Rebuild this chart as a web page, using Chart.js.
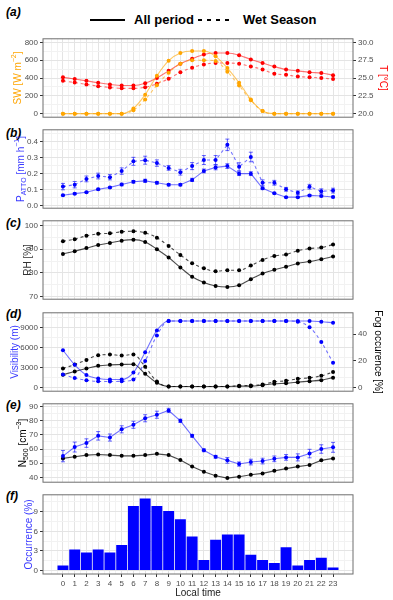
<!DOCTYPE html>
<html><head><meta charset="utf-8">
<script src="https://cdn.jsdelivr.net/npm/chart.js@4/dist/chart.umd.min.js"></script>
<style>
body{margin:0;width:393px;height:600px;background:#fff;position:relative;overflow:hidden;font-family:"Liberation Sans",Arial,sans-serif;}
canvas{position:absolute;left:0;}
.lab{position:absolute;left:6px;font-weight:bold;font-style:italic;font-size:12px;color:#000;line-height:12px;}
.lg{position:absolute;font-weight:bold;font-size:13px;color:#000;line-height:14px;}
</style></head><body>
<div class="lab" style="top:6px">(a)</div>
<div class="lab" style="top:127px">(b)</div>
<div class="lab" style="top:217px">(c)</div>
<div class="lab" style="top:308px">(d)</div>
<div class="lab" style="top:399px">(e)</div>
<div class="lab" style="top:490px">(f)</div>
<div style="position:absolute;left:90px;top:19px;width:35px;height:2px;background:#000"></div>
<div class="lg" style="left:134px;top:13px">All period</div>
<div style="position:absolute;left:198px;top:19px;width:35px;height:2px;background:repeating-linear-gradient(to right,#000 0 4px,transparent 4px 9px)"></div>
<div class="lg" style="left:243px;top:13px">Wet Season</div>
<canvas id="ca" width="393" height="92" style="top:32px"></canvas>
<canvas id="cb" width="393" height="92" style="top:123px"></canvas>
<canvas id="cc" width="393" height="92" style="top:214px"></canvas>
<canvas id="cd" width="393" height="92" style="top:306px"></canvas>
<canvas id="ce" width="393" height="92" style="top:397px"></canvas>
<canvas id="cf" width="393" height="112" style="top:488px"></canvas>
<script>
// ---------- data ----------
const hours = [0,1,2,3,4,5,6,7,8,9,10,11,12,13,14,15,16,17,18,19,20,21,22,23];
const xTickLabels = hours.map(String);
// (a)
const swAll = [0,0,0,0,0,0,58,213,425,595,680,703,703,643,512,347,158,29,0,0,0,0,0,0];
const swWet = [0,0,0,0,0,0,38,160,318,460,560,600,600,592,470,315,150,29,0,0,0,0,0,0];
const tAll = [25.1,24.86,24.6,24.33,24.1,23.95,23.95,24.27,25.0,26.0,27.0,27.7,28.3,28.5,28.5,28.2,27.6,27.1,26.6,26.2,26.0,25.8,25.7,25.4];
const tWet = [24.6,24.36,24.1,23.86,23.68,23.55,23.55,23.7,24.2,24.9,25.8,26.45,26.9,27.1,27.1,27.0,26.6,26.2,25.6,25.45,25.2,25.1,25.0,24.85];
// (b)
const pAll = [0.063,0.073,0.082,0.1,0.112,0.13,0.147,0.153,0.141,0.129,0.129,0.159,0.215,0.237,0.245,0.198,0.198,0.106,0.076,0.051,0.051,0.062,0.058,0.052];
const pAllErr = [0.005,0.005,0.005,0.006,0.006,0.008,0.008,0.01,0.008,0.007,0.007,0.01,0.012,0.015,0.015,0.012,0.012,0.008,0.005,0.004,0.004,0.005,0.005,0.005];
const pWet = [0.117,0.129,0.165,0.183,0.176,0.214,0.275,0.282,0.264,0.234,0.207,0.245,0.283,0.283,0.378,0.241,0.302,0.141,0.141,0.1,0.078,0.116,0.088,0.092];
const pWetErr = [0.02,0.02,0.018,0.018,0.017,0.02,0.025,0.025,0.02,0.015,0.018,0.022,0.028,0.028,0.036,0.025,0.03,0.018,0.015,0.012,0.012,0.015,0.015,0.015];
// (c)
const rhAll = [88.0,89.2,90.5,91.85,92.7,93.65,94.1,93.1,90.05,86.5,82.3,78.3,75.9,74.4,74.0,74.7,77.3,79.7,81.3,82.6,84.0,84.8,85.8,86.9];
const rhWet = [93.4,94.3,95.7,96.55,96.8,97.4,97.7,97.0,94.9,91.4,87.6,84.1,81.9,80.65,81.1,81.1,83.1,85.5,87.15,87.8,89.4,90.3,90.75,92.0];
// (d)
const visAll = [5600,3400,1870,1340,1190,1190,2240,5300,8580,10000,10000,10000,10000,10000,10000,10000,10000,10000,10000,10000,10000,10000,9890,9740];
const visWet = [1950,1420,1090,920,900,920,1190,3980,7830,10000,10000,10000,10000,10000,10000,10000,10000,10000,10000,10000,9880,9070,6850,3710];
const fogAll = [9.6,12,14.25,16.25,17,17.25,17.5,10.3,3.5,0.75,0.75,0.75,0.75,0.75,0.75,1,1,1.75,2.75,3.25,4,4.75,5.5,7.4];
const fogWet = [14.25,17.25,20.75,24.25,24.75,24,24.8,15.5,4.5,0.75,0.75,0.75,0.75,0.75,0.75,1.25,1.5,2.25,4.25,5,6.5,7.25,8.75,11.6];
// (e)
const nBlue = [55.0,61.4,64.2,69.3,68.1,73.9,77.1,81.7,84.2,87.2,79.9,69.3,59.1,54.5,52.0,49.4,50.8,51.5,53.1,54.1,54.1,56.8,60.0,61.2];
const nBlueErr = [4,3.5,3,3,2.5,2.5,2.5,2.5,2.5,1.5,1.2,1,1,1,2,1.5,2,2,2,2,2.5,3,3,3.5];
const nBlack = [53.4,54.5,55.7,56.1,55.7,55.2,55.2,55.7,56.6,55.7,52.2,47.6,43.9,41.2,39.5,40.5,41.8,42.8,44.6,46.2,47.6,48.7,52.0,53.4];
// (f)
const occ = [0.75,3.2,2.75,3.2,2.75,3.9,9.9,11.05,9.9,9.1,7.85,5.2,1.6,4.7,5.5,5.5,2.4,1.6,1.15,3.55,0.75,1.6,1.95,0.45];

// ---------- helpers ----------
const FONT = '"Liberation Sans", Arial, sans-serif';
const GRID_MAJOR = '#e4e4e4', GRID_MINOR = '#f2f2f2', TICK_TXT = '#4d4d4d', TICK_MARK = '#333333';
const NONE = 'rgba(0,0,0,0)';
Chart.defaults.font.family = FONT;
function seq(a, b, s){ const r=[]; for(let v=a; v<=b+1e-9; v+=s) r.push(+v.toFixed(6)); return r; }
const pts = arr => arr.map((v,i)=>({x:hours[i], y:v}));
const isMajX = v => v !== undefined && Number.isInteger(v) && v>=0 && v<=23;
const tv = c => (c && c.tick) ? c.tick.value : undefined;

function xAxis(show){
  return {
    type:'linear', min:-1.7, max:24.7, offset:false,
    afterBuildTicks: s => { s.ticks = seq(-1,24,0.5).map(v=>({value:v})); },
    afterFit: s => { s.height = show ? 26 : 0; },
    grid:{ offset:false, color: c => isMajX(tv(c)) ? GRID_MAJOR : GRID_MINOR, lineWidth:1,
           drawTicks: show, tickLength:3, tickColor: c => isMajX(tv(c)) ? TICK_MARK : NONE },
    border:{display:false},
    ticks:{ display: show, autoSkip:false, maxRotation:0, padding:2, color:TICK_TXT, font:{size:8},
            callback: v => isMajX(v) ? xTickLabels[v] : '' },
    title:{ display: show, text:'Local time', color:'#1a1a1a', font:{size:10}, padding:{top:0,bottom:1} }
  };
}
function yAxis(pos, min, max, majors, minors, fmt, width, grid){
  const all = majors.concat(minors).sort((a,b)=>a-b);
  const maj = v => v !== undefined && majors.some(m => Math.abs(m-v) < 1e-9);
  return {
    type:'linear', position:pos, min, max,
    afterBuildTicks: s => { s.ticks = all.map(v=>({value:v})); },
    afterFit: s => { s.width = width; },
    grid:{ drawOnChartArea: grid, color: c => maj(tv(c)) ? GRID_MAJOR : GRID_MINOR, lineWidth:1,
           drawTicks:true, tickLength:3, tickColor: c => maj(tv(c)) ? TICK_MARK : NONE },
    border:{display:false},
    ticks:{ autoSkip:false, padding:2, color:TICK_TXT, font:{size:8}, callback: v => maj(v) ? fmt(v) : '' }
  };
}
function line(data, color, ptColor, dashed, yID, extra){
  return Object.assign({
    type:'line', data:pts(data), yAxisID:yID||'y',
    borderColor:color, borderWidth:1.1, borderDash: dashed ? [3,3] : [],
    pointRadius:2, pointBorderWidth:0, pointBackgroundColor:ptColor, pointHoverRadius:2,
    fill:false
  }, extra||{});
}

// rich rotated titles + panel border + error bars
const deco = {
  id:'deco',
  afterDatasetsDraw(chart){
    const ctx = chart.ctx, a = chart.chartArea;
    ctx.save();
    ctx.beginPath(); ctx.rect(a.left, a.top, a.right-a.left, a.bottom-a.top); ctx.clip();
    chart.data.datasets.forEach((ds, di) => {
      if(!ds.errs) return;
      const meta = chart.getDatasetMeta(di), ys = chart.scales[meta.yAxisID];
      ctx.strokeStyle = ds.errColor; ctx.lineWidth = 1; ctx.setLineDash([]);
      meta.data.forEach((p, i) => {
        const v = ds.data[i].y, e = ds.errs[i];
        const y1 = ys.getPixelForValue(v+e), y2 = ys.getPixelForValue(v-e);
        ctx.beginPath();
        ctx.moveTo(p.x, y1); ctx.lineTo(p.x, y2);
        ctx.moveTo(p.x-2, y1); ctx.lineTo(p.x+2, y1);
        ctx.moveTo(p.x-2, y2); ctx.lineTo(p.x+2, y2);
        ctx.stroke();
      });
    });
    ctx.restore();
  },
  afterDraw(chart, args, opts){
    const ctx = chart.ctx, a = chart.chartArea;
    ctx.save();
    ctx.strokeStyle = '#6e6e6e'; ctx.lineWidth = 1; ctx.setLineDash([]);
    ctx.strokeRect(a.left, a.top, a.right-a.left, a.bottom-a.top);
    (opts.titles||[]).forEach(t => {
      const cy = (a.top + a.bottom)/2;
      ctx.save();
      ctx.translate(t.x, cy);
      ctx.rotate(t.rot);
      ctx.fillStyle = t.color; ctx.textBaseline = 'middle'; ctx.textAlign = 'left';
      const big = '10px ' + FONT, small = '7px ' + FONT;
      let w = 0;
      t.parts.forEach(p => { ctx.font = (p.sub||p.sup) ? small : big; w += ctx.measureText(p.t).width; });
      let x = -w/2;
      t.parts.forEach(p => {
        ctx.font = (p.sub||p.sup) ? small : big;
        const dy = p.sub ? 3 : (p.sup ? -3.5 : 0);
        ctx.fillText(p.t, x, dy);
        x += ctx.measureText(p.t).width;
      });
      ctx.restore();
    });
    ctx.restore();
  }
};
Chart.register(deco);

function make(id, datasets, scales, titles, padBottom, padRight){
  return new Chart(document.getElementById(id), {
    data:{ datasets },
    options:{
      responsive:false, animation:false, devicePixelRatio:1, events:[],
      layout:{ padding:{ top:6, bottom:padBottom, left:0, right:padRight } },
      plugins:{ legend:{display:false}, tooltip:{enabled:false}, deco:{ titles } },
      scales
    }
  });
}
const ORANGE='#FFA500', ORANGE_L='rgba(255,165,0,0.6)', RED='#FF0000', RED_L='rgba(255,0,0,0.55)';
const BLUE='#0000FF', BLUE_L='rgba(0,0,255,0.55)', BLACK='#000000', BLACK_L='rgba(0,0,0,0.7)';
const MONO = {cubicInterpolationMode:'monotone'};

// (a)
make('ca', [
  line(swAll, ORANGE_L, ORANGE, false, 'y', MONO),
  line(swWet, ORANGE_L, ORANGE, true, 'y', MONO),
  line(tAll, RED_L, RED, false, 'y2', MONO),
  line(tWet, RED_L, RED, true, 'y2', MONO)
], {
  x: xAxis(false),
  y: yAxis('left', -40, 840, [0,200,400,600,800], [100,300,500,700], v=>String(v), 43, true),
  y2: yAxis('right', 19.5, 30.5, [20,22.5,25,27.5,30], [], v=>v.toFixed(1), 40, false)
}, [
  {x:18, rot:-Math.PI/2, color:ORANGE, parts:[{t:'SW [W m'},{t:'−2',sup:true},{t:']'}]},
  {x:383, rot:Math.PI/2, color:RED, parts:[{t:'T [°C]'}]}
], 6, 0);

// (b)
make('cb', [
  line(pAll, BLUE_L, BLUE, false, 'y', {errs:pAllErr, errColor:'rgba(0,0,255,0.6)'}),
  line(pWet, BLUE_L, BLUE, true, 'y', {errs:pWetErr, errColor:'rgba(0,0,255,0.6)'})
], {
  x: xAxis(false),
  y: yAxis('left', -0.018, 0.472, [0,0.1,0.2,0.3,0.4], [0.05,0.15,0.25,0.35,0.45], v=>v.toFixed(1), 43, true)
}, [
  {x:21, rot:-Math.PI/2, color:'#3a3aff', parts:[{t:'P'},{t:'ATTO',sub:true},{t:' [mm h'},{t:'−1',sup:true},{t:']'}]}
], 6, 40);

// (c)
make('cc', [
  line(rhAll, BLACK_L, BLACK, false, 'y', MONO),
  line(rhWet, BLACK_L, BLACK, true, 'y', MONO)
], {
  x: xAxis(false),
  y: yAxis('left', 68.8, 102.1, [70,80,90,100], [75,85,95], v=>String(v), 43, true)
}, [
  {x:28, rot:-Math.PI/2, color:'#333333', parts:[{t:'RH [%]'}]}
], 6, 40);

// (d)
make('cd', [
  line(visAll, BLUE_L, BLUE, false, 'y', MONO),
  line(visWet, BLUE_L, BLUE, true, 'y', MONO),
  line(fogAll, BLACK_L, BLACK, false, 'y2', MONO),
  line(fogWet, BLACK_L, BLACK, true, 'y2', MONO)
], {
  x: xAxis(false),
  y: yAxis('left', -560, 11230, [0,3000,6000,9000], [1500,4500,7500,10500], v=>String(v), 43, true),
  y2: yAxis('right', -2.8, 56.15, [0,20,40], [], v=>String(v), 40, false)
}, [
  {x:15, rot:-Math.PI/2, color:'#3a3aff', parts:[{t:'Visibility (m)'}]},
  {x:378, rot:Math.PI/2, color:'#000000', parts:[{t:'Fog occurence [%]'}]}
], 6, 0);

// (e)
make('ce', [
  line(nBlue, BLUE_L, BLUE, false, 'y', {errs:nBlueErr, errColor:'rgba(0,0,255,0.6)'}),
  line(nBlack, BLACK_L, BLACK, false, 'y')
], {
  x: xAxis(false),
  y: yAxis('left', 36.6, 91.9, [40,50,60,70,80,90], [45,55,65,75,85], v=>String(v), 43, true)
}, [
  {x:23, rot:-Math.PI/2, color:'#000000', parts:[{t:'N'},{t:'500',sub:true},{t:' [cm'},{t:'−3',sup:true},{t:']'}]}
], 6, 40);

// (f) — the bar ruler sees the half-hour grid ticks, so the category share is doubled
make('cf', [
  {type:'bar', data:pts(occ), backgroundColor:BLUE, borderColor:'rgba(255,255,255,0.6)', borderWidth:0, barPercentage:0.93, categoryPercentage:2}
], {
  x: xAxis(true),
  y: yAxis('left', -0.55, 11.6, [0,3,6,9], [1.5,4.5,7.5,10.5], v=>String(v), 43, true)
}, [
  {x:29, rot:-Math.PI/2, color:'#3a3aff', parts:[{t:'Occurrence (%)'}]}
], 0, 40);
</script>
</body></html>
